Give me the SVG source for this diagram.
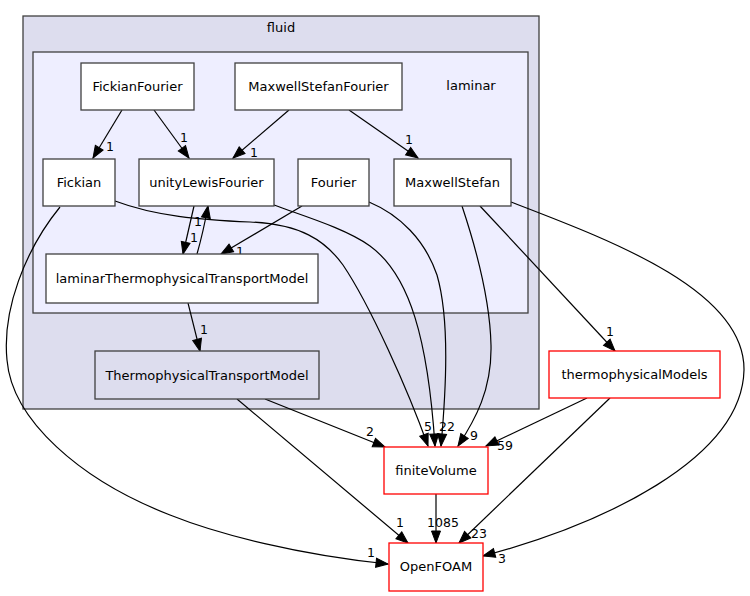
<svg xmlns="http://www.w3.org/2000/svg" width="750" height="596" viewBox="0 0 750 596">
<style>
text{font-family:"DejaVu Sans","Liberation Sans",sans-serif;fill:#000}
.n{font-size:13px;text-anchor:middle}
.l{font-size:12.5px;text-anchor:middle}
.box{fill:#fff;stroke:#404040;stroke-width:1.3}
.ext{fill:#fff;stroke:#ff0000;stroke-width:1.3}
.e{fill:none;stroke:#000;stroke-width:1.2;marker-end:url(#ah)}
</style>
<defs>
<marker id="ah" markerUnits="userSpaceOnUse" markerWidth="13" markerHeight="10" refX="12" refY="4.5" orient="auto" overflow="visible">
<path d="M0,0 L12,4.5 L0,9 z" fill="#000" stroke="#000" stroke-width="1"/>
</marker>
</defs>
<rect width="750" height="596" fill="#fff"/>
<g id="cluster_fluid">
<rect x="23" y="16" width="516" height="393" fill="#ddddee" stroke="#404040" stroke-width="1.3"/>
<text class="n" x="281" y="32">fluid</text>
</g>
<g id="cluster_laminar">
<rect x="33" y="52" width="495" height="261" fill="#eeeeff" stroke="#404040" stroke-width="1.3"/>
<text class="n" x="471" y="90">laminar</text>
</g>
<g id="edges">
<path class="e" d="M122,110 L93,158"/>
<path class="e" d="M154,110 L189,158"/>
<path class="e" d="M289,110 L233,158"/>
<path class="e" d="M349,110 L418,158"/>
<path class="e" d="M194,206 L183,254"/>
<path class="e" d="M197,254 C201,240 204,228 208,206"/>
<path class="e" d="M302,206 L221,254"/>
<path class="e" d="M115,201 C155,216 200,220 250,222 C300,224 325,240 343,265 C370,305 408,390 428,446"/>
<path class="e" d="M274,205 C300,215 345,228 370,246 C410,275 428,340 435,446"/>
<path class="e" d="M369,202 C400,215 425,240 437,275 C450,320 446,390 441,446"/>
<path class="e" d="M462,206 C475,245 490,300 491,345 C492,390 475,420 458,446"/>
<path class="e" d="M480,206 L615,351"/>
<path class="e" d="M511,202 C610,240 745,290 744,370 C742,460 600,525 483,556"/>
<path class="e" d="M60,207 C25,250 2,310 7,360 C12,420 80,480 170,515 C220,535 300,555 388,564"/>
<path class="e" d="M188,303 L200,351"/>
<path class="e" d="M265,399 L385,447"/>
<path class="e" d="M237,399 L408,543"/>
<path class="e" d="M587,398 L486,446"/>
<path class="e" d="M610,398 L459,543"/>
<path class="e" d="M436,494 L436,543"/>
<text class="l" x="110" y="151">1</text>
<text class="l" x="184" y="142">1</text>
<text class="l" x="254" y="157">1</text>
<text class="l" x="409" y="144">1</text>
<text class="l" x="194" y="242">1</text>
<text class="l" x="198" y="226">1</text>
<text class="l" x="240" y="256">1</text>
<text class="l" x="428" y="431">5</text>
<text class="l" x="443" y="431">2</text>
<text class="l" x="451" y="431">2</text>
<text class="l" x="474" y="440">9</text>
<text class="l" x="610" y="336">1</text>
<text class="l" x="502" y="563">3</text>
<text class="l" x="371" y="557">1</text>
<text class="l" x="204" y="334">1</text>
<text class="l" x="370" y="436">2</text>
<text class="l" x="400" y="527">1</text>
<text class="l" x="505" y="450">59</text>
<text class="l" x="479" y="538">23</text>
<text class="l" x="443" y="527">1085</text>
</g>
<g id="FickianFourier">
<rect class="box" x="81" y="63" width="113" height="47"/>
<text class="n" x="137.5" y="91">FickianFourier</text>
</g>
<g id="MaxwellStefanFourier">
<rect class="box" x="235" y="63" width="167" height="47"/>
<text class="n" x="318.5" y="91">MaxwellStefanFourier</text>
</g>
<g id="Fickian">
<rect class="box" x="43" y="159" width="72" height="47"/>
<text class="n" x="79" y="187">Fickian</text>
</g>
<g id="unityLewisFourier">
<rect class="box" x="139" y="159" width="135" height="47"/>
<text class="n" x="206.5" y="187">unityLewisFourier</text>
</g>
<g id="Fourier">
<rect class="box" x="298" y="159" width="71" height="47"/>
<text class="n" x="333.5" y="187">Fourier</text>
</g>
<g id="MaxwellStefan">
<rect class="box" x="394" y="159" width="117" height="47"/>
<text class="n" x="452.5" y="187">MaxwellStefan</text>
</g>
<g id="laminarThermophysicalTransportModel">
<rect class="box" x="46" y="254" width="272" height="49"/>
<text class="n" x="182" y="283">laminarThermophysicalTransportModel</text>
</g>
<g id="ThermophysicalTransportModel">
<rect x="95" y="351" width="224" height="48" fill="#ddddee" stroke="#404040" stroke-width="1.3"/>
<text class="n" x="207" y="380">ThermophysicalTransportModel</text>
</g>
<g id="thermophysicalModels">
<rect class="ext" x="549" y="351" width="171" height="47"/>
<text class="n" x="634.5" y="379">thermophysicalModels</text>
</g>
<g id="finiteVolume">
<rect class="ext" x="384" y="447" width="104" height="47"/>
<text class="n" x="436" y="475">finiteVolume</text>
</g>
<g id="OpenFOAM">
<rect class="ext" x="389" y="543" width="94" height="48"/>
<text class="n" x="436" y="571">OpenFOAM</text>
</g>
</svg>
